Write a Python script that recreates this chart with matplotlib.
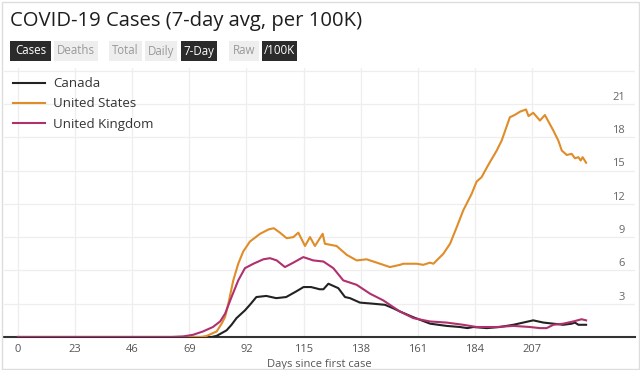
import matplotlib
matplotlib.use("Agg")
import matplotlib.pyplot as plt
from matplotlib.patches import Rectangle
import matplotlib.transforms as mtransforms

plt.rcParams['font.family'] = ['Open Sans', 'DejaVu Sans']

# ---------------- data ----------------
canada_days = [0, 78, 80, 84, 86, 88, 91.4, 93.4, 96, 100, 104, 108, 112, 115, 118,
               121.5, 123, 125, 129, 131.7, 133.7, 137.7, 143, 147.8, 151, 153.8,
               159, 166, 172.6, 178, 181, 183.4, 188.8, 194, 199.5, 203.5, 207.5,
               211.6, 215.6, 219.6, 223, 224.3, 225.7, 228.8]
canada_vals = [0, 0, 0.1, 0.6, 1.1, 1.7, 2.4, 2.9, 3.6, 3.7, 3.5, 3.6, 4.1, 4.5, 4.5,
               4.3, 4.3, 4.8, 4.4, 3.6, 3.5, 3.1, 3.0, 2.9, 2.6, 2.3,
               1.8, 1.2, 1.0, 0.9, 0.8, 0.9, 0.8, 0.9, 1.1, 1.3, 1.5,
               1.3, 1.2, 1.1, 1.2, 1.3, 1.1, 1.1]

us_days = [0, 74, 76, 80, 82, 83.4, 84.7, 86.7, 88.7, 90.7, 93.4, 97.5, 101, 103,
           105.5, 108.2, 110.9, 112.9, 115.6, 117.6, 119.6, 122.7, 123.6, 128.3,
           132.4, 136.4, 140.4, 145.8, 149.8, 153.8, 155.2, 160.6, 163.2, 165.9,
           167.3, 171.3, 174, 176.7, 179.3, 182.7, 184.7, 186.7, 189.4, 192.8,
           194.8, 198.1, 200, 202.2, 204.6, 205.6, 207.5, 210.2, 212.2, 215.6,
           217.6, 219, 221, 223, 224.3, 225.7, 226.6, 227.4, 228.8]
us_vals = [0, 0, 0.1, 0.5, 1.2, 1.8, 3.0, 5.1, 6.6, 7.7, 8.6, 9.3, 9.7, 9.8,
           9.4, 8.9, 9.0, 9.4, 8.2, 9.0, 8.2, 9.3, 8.4, 8.2,
           7.4, 6.9, 7.0, 6.6, 6.3, 6.5, 6.6, 6.6, 6.5, 6.7,
           6.6, 7.5, 8.4, 9.9, 11.4, 12.9, 14.0, 14.4, 15.5, 16.8,
           17.7, 19.8, 20.0, 20.3, 20.5, 19.9, 20.2, 19.5, 20.0, 18.6,
           17.7, 16.8, 16.4, 16.5, 16.1, 16.2, 15.9, 16.2, 15.7]

uk_days = [0, 62, 66.5, 70.5, 74.5, 78.5, 81.4, 83.4, 86, 88.7, 91.4, 94.8, 98.8,
           101.5, 104.2, 107.5, 110.9, 114.9, 118.9, 123, 127, 131, 136.4, 141.8,
           147.1, 151.1, 153.8, 159.2, 165.9, 172.6, 179.3, 184.7, 192.8, 199.5,
           206.2, 210.2, 212.9, 215.6, 219.6, 223.6, 227, 228.8]
uk_vals = [0, 0, 0.05, 0.2, 0.5, 0.9, 1.4, 2.1, 3.6, 5.1, 6.2, 6.6, 7.0,
           7.1, 6.9, 6.3, 6.7, 7.2, 6.9, 6.8, 6.2, 5.1, 4.7, 3.9,
           3.3, 2.7, 2.3, 1.7, 1.4, 1.3, 1.1, 0.9, 0.9, 1.0,
           0.9, 0.8, 0.8, 1.1, 1.2, 1.4, 1.6, 1.5]

x_ticks = [0, 23, 46, 69, 92, 115, 138, 161, 184, 207]
y_ticks = [3, 6, 9, 12, 15, 18, 21]
y_grid = [3, 6, 9, 12, 15, 18, 21, 24]

series_names = ["Canada", "United States", "United Kingdom"]
series_colors = ["#222222", "#e08c28", "#b0306e"]

buttons = [("Cases", True), ("Deaths", False), ("Total", False), ("Daily", False),
           ("7-Day", True), ("Raw", False), ("/100K", True)]
button_px = [(10, 51), (54, 98), (109, 142), (145, 177), (181, 217), (229, 259), (262, 297)]

# ---------------- figure ----------------
W, H = 640, 370
fig = plt.figure(figsize=(6.4, 3.7), dpi=100)
fig.patch.set_facecolor("white")

def fx(px):
    return px / W

def fy(py):
    return 1 - py / H

# outer frame
fig.patches.append(Rectangle((fx(1.5), fy(368.5)), fx(637), 367 / H, transform=fig.transFigure,
                             fill=False, edgecolor="#dddddd", linewidth=1))

fig.text(fx(10), fy(21), "COVID-19 Cases (7-day avg, per 100K)", fontsize=14.6,
         color="#1e1e1e", va="center", ha="left", fontweight="medium")

for (label, active), (x0, x1) in zip(buttons, button_px):
    fc = "#2b2b2b" if active else "#eeeeee"
    tc = "#ffffff" if active else "#999999"
    fig.patches.append(Rectangle((fx(x0), fy(61)), fx(x1 - x0), 20 / H,
                                 transform=fig.transFigure, facecolor=fc,
                                 edgecolor="none"))
    fig.text(fx((x0 + x1) / 2), fy(51), label, fontsize=8.3, color=tc,
             ha="center", va="center")

ax_left, ax_right, ax_top, ax_bottom = 4, 635, 68, 337
ax = fig.add_axes([fx(ax_left), fy(ax_bottom), fx(ax_right - ax_left),
                   (ax_bottom - ax_top) / H])
ax.set_facecolor("white")

x_left = (ax_left - 18) / 2.483
x_right = (ax_right - 18) / 2.483
ax.set_xlim(x_left, x_right)
ax.set_ylim(0, (ax_bottom - ax_top) / 11.1)

for v in y_grid:
    ax.axhline(v, color="#eeeeee", linewidth=0.9, zorder=0)
for v in x_ticks:
    ax.axvline(v, color="#eeeeee", linewidth=0.9, zorder=0)

lines = []
for d, v, name, c in zip([canada_days, us_days, uk_days],
                         [canada_vals, us_vals, uk_vals],
                         series_names, series_colors):
    ln, = ax.plot(d, v, color=c, linewidth=1.5, label=name, zorder=3,
                  solid_joinstyle="round")
    lines.append(ln)

for s in ["top", "right", "left"]:
    ax.spines[s].set_visible(False)
ax.spines["bottom"].set_color("#333333")
ax.spines["bottom"].set_linewidth(1.5)

ax.set_xticks(x_ticks)
ax.set_xticklabels([str(t) for t in x_ticks])
ax.tick_params(axis="x", length=0, pad=5, labelsize=8, labelcolor="#555555")
ax.set_yticks([])

trans = mtransforms.blended_transform_factory(ax.transAxes, ax.transData)
for v in y_ticks:
    ax.text((625 - ax_left) / (ax_right - ax_left), v + 0.1, str(v), transform=trans,
            ha="right", va="bottom", fontsize=8, color="#666666")

ax.set_xlabel("Days since first case", fontsize=8, color="#555555", labelpad=3)

leg = ax.legend(handles=lines, loc="upper left", bbox_to_anchor=(0.0, 1.0),
                frameon=False, fontsize=9.5, handlelength=2.4, handletextpad=0.6,
                labelspacing=0.55, borderaxespad=0.3)
for t in leg.get_texts():
    t.set_color("#333333")

fig.savefig("out.png", dpi=100, facecolor="white")
